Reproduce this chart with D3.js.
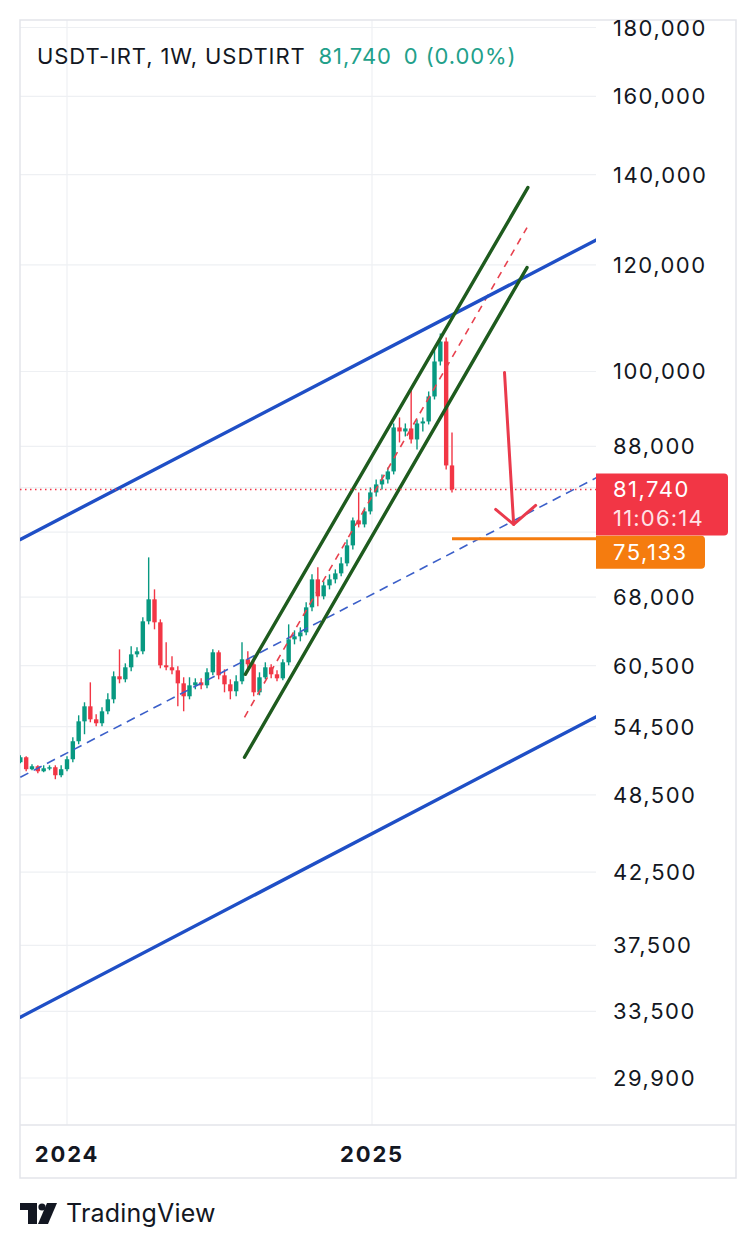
<!DOCTYPE html>
<html><head><meta charset="utf-8">
<script src="https://cdn.jsdelivr.net/npm/d3@7"></script>
<style>
body{margin:0;background:#fff;}
svg{display:block;font-family:Inter,"Noto Sans",sans-serif;}
</style>
</head><body>
<svg id="c" width="756" height="1250"></svg>
<script>
// ---------- DATA ----------
const weeks = ["2023-11-06","2023-11-13","2023-11-20","2023-11-27","2023-12-04","2023-12-11","2023-12-18","2023-12-25",
"2024-01-01","2024-01-08","2024-01-15","2024-01-22","2024-01-29","2024-02-05","2024-02-12","2024-02-19","2024-02-26",
"2024-03-04","2024-03-11","2024-03-18","2024-03-25","2024-04-01","2024-04-08","2024-04-15","2024-04-22","2024-04-29",
"2024-05-06","2024-05-13","2024-05-20","2024-05-27","2024-06-03","2024-06-10","2024-06-17","2024-06-24",
"2024-07-01","2024-07-08","2024-07-15","2024-07-22","2024-07-29","2024-08-05","2024-08-12","2024-08-19","2024-08-26",
"2024-09-02","2024-09-09","2024-09-16","2024-09-23","2024-09-30","2024-10-07","2024-10-14","2024-10-21","2024-10-28",
"2024-11-04","2024-11-11","2024-11-18","2024-11-25","2024-12-02","2024-12-09","2024-12-16","2024-12-23","2024-12-30",
"2025-01-06","2025-01-13","2025-01-20","2025-01-27","2025-02-03","2025-02-10","2025-02-17","2025-02-24",
"2025-03-03","2025-03-10","2025-03-17","2025-03-24","2025-03-31","2025-04-07"];

const open = [51290,51725,50680,50935,50500,50760,50850,50160,50680,51550,53160,55000,56430,55190,54820,55950,57110,59400,59095,60320,
61670,61990,65250,67750,65140,60525,60320,60010,58690,57405,58490,58790,58490,59806,61885,59500,58593,57898,58894,61149,
60629,57798,59297,60320,59602,59196,60836,63273,63598,64034,66828,70101,68095,69386,70101,70823,72043,74292,77532,77005,
78733,81329,82448,83155,84300,90879,90260,90724,89035,91502,91815,95820,101723,105257,85168];

const high = [51900,51810,51110,51020,51020,51020,51020,51020,51810,53520,55570,56820,58790,55670,56340,57700,59900,62200,60730,62520,
62415,65700,72785,68914,65472,62950,61460,60420,59300,59300,59196,59196,60216,62202,62096,60113,59095,59500,62950,61990,
61149,59806,60837,60629,60010,61149,64914,64253,64584,67400,70702,71552,69862,70702,71308,72785,75057,77932,81329,79272,
82027,83155,83869,84878,91502,92444,91502,96807,92129,92444,96642,103829,106706,105978,90106];

const low = [51200,50500,50590,50330,50420,50590,49820,49990,50500,51285,52890,53800,54910,54540,54540,55670,56720,58693,58793,59908,
61358,61670,64914,64363,60216,60010,59600,56432,55953,57111,58095,58095,58194,59500,59095,57798,57111,57405,58593,60113,
57405,57502,59095,59196,58894,58994,60525,62735,63057,63707,66373,66942,67747,68914,69624,70461,71674,73786,76611,76611,
78330,80776,81747,82589,83869,88580,89492,88429,87527,90260,91346,95330,101030,84588,81329];

const close = [51725,50680,50935,50500,50760,50850,50160,50680,51550,53160,55000,56430,55190,54820,55950,57110,59400,59095,60320,61670,
61990,65250,67750,65140,60525,60320,60010,58690,57405,58490,58790,58490,59806,61885,59500,58593,57898,58894,61149,60629,
57798,59297,60320,59602,59196,60836,63273,63598,64034,66828,70101,68095,69386,70101,70823,72043,74292,77532,77005,78733,
81329,82448,83155,84300,90879,90260,90724,89035,91502,91815,95820,101723,105257,85168,81740];

const priceTicks = [180000,160000,140000,120000,100000,88000,82000,76000,68000,60500,54500,48500,42500,37500,33500,29900];
const hiddenTicks = [82000,76000];
const yearTicks = ["2024-01-01","2025-01-01"];

// drawings: [date, price]
const blueUpper  = [["2023-11-06",75057],["2025-09-28",125288]];
const blueLower  = [["2023-11-06",33178],["2025-09-28",55475]];
const blueDashed = [["2023-11-06",49985],["2025-09-28",83440]];
const greenUpper = [["2024-08-02",59602],["2025-07-07",136924]];
const greenLower = [["2024-08-01",51725],["2025-07-06",119438]];
const redDashed  = [["2024-08-01",55382],["2025-07-06",127882]];
const arrowLine  = [["2025-06-09",99830],["2025-06-20",77005]];
const targetLevel = 75133;
const targetStart = "2025-04-07";
const lastPrice = 81740;
const countdown = "11:06:14";
const header = {sym:"USDT-IRT, 1W, USDTIRT", val:"81,740", chg:"0 (0.00%)"};

// ---------- CHART ----------
const svg = d3.select("#c");
const L=20, R=596, T=20, B=1125, RA=736, BA=1178;
const pd = s => new Date(s+"T00:00:00Z");
const x = d3.scaleUtc().domain([pd("2024-01-01"), pd("2025-01-01")]).range([67,372]);
const y = d3.scaleLog().domain([29900,180000]).range([1078,27.5]);
const GREEN="#089981", RED="#f23645";

svg.append("rect").attr("width",756).attr("height",1250).attr("fill","#fff");
svg.append("defs").append("clipPath").attr("id","plot")
  .append("rect").attr("x",L).attr("y",T).attr("width",R-L).attr("height",B-T);

// grid
const grid = svg.append("g").attr("stroke","#eef0f3").attr("stroke-width",1.2);
grid.selectAll(".h").data(priceTicks).join("line")
  .attr("x1",L).attr("x2",R).attr("y1",d=>y(d)).attr("y2",d=>y(d));
grid.selectAll(".v").data(yearTicks).join("line")
  .attr("x1",d=>x(pd(d))).attr("x2",d=>x(pd(d))).attr("y1",T).attr("y2",B);

// frame
const fr = svg.append("g").attr("stroke","#e3e5ea").attr("stroke-width",1.5).attr("fill","none");
fr.append("rect").attr("x",L).attr("y",T).attr("width",RA-L).attr("height",BA-T);
fr.append("line").attr("x1",L).attr("x2",RA).attr("y1",B).attr("y2",B);

// header
const hd = svg.append("text").attr("x",37).attr("y",56).attr("dominant-baseline","central")
  .attr("font-size",22).attr("letter-spacing",0.9);
hd.append("tspan").attr("fill","#131722").text(header.sym);
hd.append("tspan").attr("fill","#22a08a").attr("dx",13).text(header.val);
hd.append("tspan").attr("fill","#22a08a").attr("dx",12).text(header.chg);

const plot = svg.append("g").attr("clip-path","url(#plot)");

const data = weeks.map((w,i)=>({d:pd(w),o:open[i],h:high[i],l:low[i],c:close[i]}));

// candles
const cg = plot.append("g");
cg.selectAll("line").data(data).join("line")
  .attr("x1",d=>x(d.d)).attr("x2",d=>x(d.d)).attr("y1",d=>y(d.h)).attr("y2",d=>y(d.l))
  .attr("stroke",d=>d.c>=d.o?GREEN:RED).attr("stroke-width",1.4);
cg.selectAll("rect").data(data).join("rect")
  .attr("x",d=>x(d.d)-2.2).attr("width",4.4)
  .attr("y",d=>Math.min(y(d.o),y(d.c)))
  .attr("height",d=>Math.max(1.4,Math.abs(y(d.o)-y(d.c))))
  .attr("fill",d=>d.c>=d.o?GREEN:RED);

// lines
const ln = d3.line().x(p=>x(pd(p[0]))).y(p=>y(p[1]));
function drawLine(pts,color,w,dash){
  const p = plot.append("path").attr("d",ln(pts)).attr("fill","none")
    .attr("stroke",color).attr("stroke-width",w).attr("stroke-linecap","round");
  if(dash) p.attr("stroke-dasharray",dash).attr("stroke-linecap","butt");
  return p;
}
drawLine(blueDashed,"#3b5fc9",1.6,"9,6");
drawLine(redDashed,"#e8414e",1.6,"7,6");
drawLine(blueUpper,"#1f4fc6",3.4);
drawLine(blueLower,"#1f4fc6",3.4);
drawLine(greenUpper,"#1e5b1e",3.4);
drawLine(greenLower,"#1e5b1e",3.4);

// current price dotted line
plot.append("line").attr("x1",L).attr("x2",R).attr("y1",y(lastPrice)).attr("y2",y(lastPrice))
  .attr("stroke",RED).attr("stroke-width",1.5).attr("stroke-dasharray","1.5,3.5");

// orange level
plot.append("line").attr("x1",x(pd(targetStart))).attr("x2",R).attr("y1",y(targetLevel)).attr("y2",y(targetLevel))
  .attr("stroke","#f57c0f").attr("stroke-width",3);

// arrow
const a0=[x(pd(arrowLine[0][0])),y(arrowLine[0][1])], a1=[x(pd(arrowLine[1][0])),y(arrowLine[1][1])];
const ag = plot.append("g").attr("stroke","#ea3a4c").attr("stroke-width",3).attr("fill","none")
  .attr("stroke-linecap","round").attr("stroke-linejoin","round");
ag.append("line").attr("x1",a0[0]).attr("y1",a0[1]).attr("x2",a1[0]).attr("y2",a1[1]);
ag.append("path").attr("d",`M${a1[0]-18},${a1[1]-15}L${a1[0]},${a1[1]}L${a1[0]+22},${a1[1]-19}`);

// price axis labels
svg.append("g").selectAll("text").data(priceTicks.filter(t=>!hiddenTicks.includes(t))).join("text")
  .attr("x",613).attr("y",d=>y(d)).attr("dominant-baseline","central")
  .attr("font-size",22).attr("letter-spacing",1.5).attr("fill","#131722").text(d=>d3.format(",")(d));

// last price label
const ly = y(lastPrice);
svg.append("path").attr("fill",RED)
  .attr("d",`M596,${ly-16}H724a4,4 0 0 1 4,4V${ly+42}a4,4 0 0 1 -4,4H596Z`);
svg.append("text").attr("x",613).attr("y",ly).attr("dominant-baseline","central")
  .attr("font-size",22).attr("letter-spacing",1.5).attr("fill","#fff").text(d3.format(",")(lastPrice));
svg.append("text").attr("x",613).attr("y",ly+29).attr("dominant-baseline","central")
  .attr("font-size",22).attr("letter-spacing",1.2).attr("fill","#ffe3e6").text(countdown);

// target label
const ty = y(targetLevel);
svg.append("path").attr("fill","#f57c0f")
  .attr("d",`M596,${ty-3}H701a4,4 0 0 1 4,4V${ty+26}a4,4 0 0 1 -4,4H596Z`);
svg.append("text").attr("x",613).attr("y",ty+13.5).attr("dominant-baseline","central")
  .attr("font-size",22).attr("letter-spacing",1.5).attr("fill","#fff").text(d3.format(",")(targetLevel));

// time axis labels
svg.append("g").selectAll("text").data(yearTicks).join("text")
  .attr("x",d=>x(pd(d))).attr("y",1154).attr("text-anchor","middle").attr("dominant-baseline","central")
  .attr("font-size",22).attr("font-weight",700).attr("letter-spacing",1.8).attr("fill","#131722")
  .text(d=>d.slice(0,4));

// TradingView logo
const lg = svg.append("g").attr("fill","#131722");
lg.append("path").attr("d","M20,1203H37V1224H28V1210H20Z");
lg.append("circle").attr("cx",42).attr("cy",1207).attr("r",3.6);
lg.append("path").attr("d","M47,1203H57L48,1224H38Z");
svg.append("text").attr("x",66).attr("y",1213).attr("dominant-baseline","central")
  .attr("font-size",25).attr("fill","#131722").attr("letter-spacing",0.2).text("TradingView");
</script>
</body></html>
